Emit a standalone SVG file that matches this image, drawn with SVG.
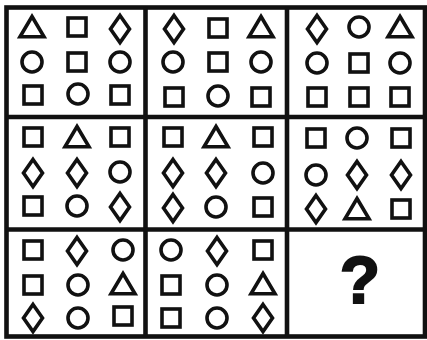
<svg xmlns="http://www.w3.org/2000/svg" xmlns:xlink="http://www.w3.org/1999/xlink" width="427" height="340" viewBox="0 0 427 340">
<style>
.s{fill:none;stroke:#111;stroke-width:3.6}
.g{fill:none;stroke:#111;stroke-width:4.6}
.q{font-family:"Liberation Sans",Arial,sans-serif;font-weight:bold;font-size:66px;fill:#111;stroke:#111;stroke-width:2}
</style>
<defs>
<rect id="sq" class="s" x="-9" y="-9" width="18" height="18"/>
<circle id="ci" class="s" r="10"/>
<path id="tr" class="s" d="M0,-10.5 L12,9.8 L-12,9.8 Z"/>
<path id="di" class="s" d="M0,-13.5 L9.5,0 L0,13.5 L-9.5,0 Z"/>
</defs>
<rect width="427" height="340" fill="#fff"/>
<g id="grid">
<rect class="g" x="6.5" y="7.5" width="418.5" height="329" stroke-width="5"/>
<line class="g" x1="145.5" y1="7.5" x2="145.5" y2="336.5"/>
<line class="g" x1="287" y1="7.5" x2="287" y2="336.5"/>
<line class="g" x1="6.5" y1="117" x2="425" y2="117"/>
<line class="g" x1="6.5" y1="229.5" x2="425" y2="229.5"/>
</g>
<g id="cell11">
<use href="#tr" x="32" y="27"/><use href="#sq" x="77" y="27"/><use href="#di" x="120" y="29"/>
<use href="#ci" x="32" y="62"/><use href="#sq" x="77" y="62"/><use href="#ci" x="120" y="62"/>
<use href="#sq" x="33" y="95"/><use href="#ci" x="78" y="94"/><use href="#sq" x="120" y="95"/>
</g>
<g id="cell12">
<use href="#di" x="174" y="29"/><use href="#sq" x="218" y="28"/><use href="#tr" x="261" y="27"/>
<use href="#ci" x="173" y="62"/><use href="#sq" x="218" y="62"/><use href="#ci" x="261" y="62"/>
<use href="#sq" x="174" y="97"/><use href="#ci" x="218" y="96"/><use href="#sq" x="261" y="97"/>
</g>
<g id="cell13">
<use href="#di" x="317" y="29"/><use href="#ci" x="359" y="27"/><use href="#tr" x="400" y="27"/>
<use href="#ci" x="317" y="63"/><use href="#sq" x="359" y="63"/><use href="#ci" x="400" y="63"/>
<use href="#sq" x="317" y="97"/><use href="#sq" x="359" y="97"/><use href="#sq" x="400" y="97"/>
</g>
<g id="cell21">
<use href="#sq" x="33" y="137"/><use href="#tr" x="77" y="137"/><use href="#sq" x="120" y="137"/>
<use href="#di" x="33" y="173"/><use href="#di" x="77" y="173"/><use href="#ci" x="120" y="172"/>
<use href="#sq" x="33" y="206"/><use href="#ci" x="77" y="206"/><use href="#di" x="120" y="207"/>
</g>
<g id="cell22">
<use href="#sq" x="173" y="137"/><use href="#tr" x="216" y="137"/><use href="#sq" x="263" y="137"/>
<use href="#di" x="173" y="173"/><use href="#di" x="216" y="173"/><use href="#ci" x="263" y="173"/>
<use href="#di" x="173" y="208"/><use href="#ci" x="216" y="207"/><use href="#sq" x="263" y="207"/>
</g>
<g id="cell23">
<use href="#sq" x="316" y="138"/><use href="#ci" x="357" y="138"/><use href="#sq" x="401" y="138"/>
<use href="#ci" x="316" y="175"/><use href="#di" x="357" y="175"/><use href="#di" x="401" y="175"/>
<use href="#di" x="316" y="209"/><use href="#tr" x="357" y="209"/><use href="#sq" x="401" y="209"/>
</g>
<g id="cell31">
<use href="#sq" x="33" y="250"/><use href="#di" x="77" y="251"/><use href="#ci" x="123" y="250"/>
<use href="#sq" x="33" y="285"/><use href="#ci" x="78" y="285"/><use href="#tr" x="123" y="284"/>
<use href="#di" x="33" y="318"/><use href="#ci" x="78" y="318"/><use href="#sq" x="123" y="316"/>
</g>
<g id="cell32">
<use href="#ci" x="171" y="250"/><use href="#di" x="217" y="251"/><use href="#sq" x="263" y="250"/>
<use href="#sq" x="171" y="285"/><use href="#ci" x="217" y="285"/><use href="#tr" x="263" y="284"/>
<use href="#sq" x="171" y="318"/><use href="#ci" x="217" y="318"/><use href="#di" x="263" y="318"/>
</g>
<g id="cell33">
<text class="q" x="360" y="303" text-anchor="middle">?</text>
</g>
</svg>
